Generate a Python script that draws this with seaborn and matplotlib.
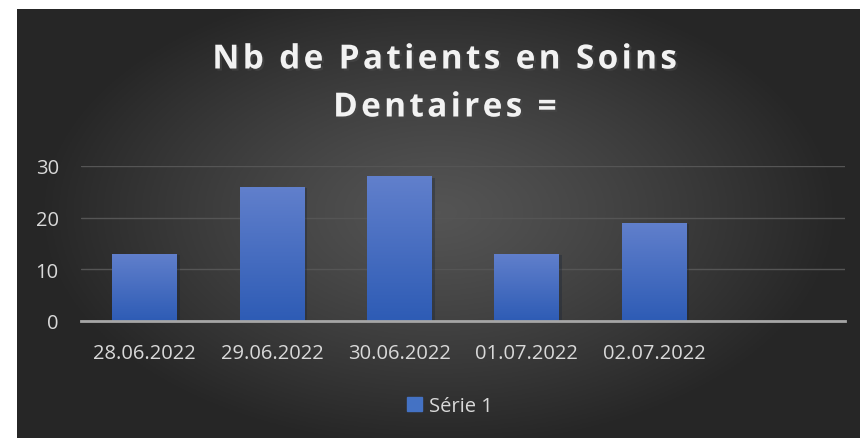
import matplotlib
matplotlib.use("Agg")
import matplotlib.pyplot as plt
import matplotlib.patheffects as pe
from matplotlib.patches import Rectangle
import numpy as np
import pandas as pd
import seaborn as sns

# data
dates = ["28.06.2022", "29.06.2022", "30.06.2022", "01.07.2022", "02.07.2022", ""]
patients = [13, 26, 28, 13, 19]
series_name = "Série 1"
title = "Nb de Patients en Soins\nDentaires ="
yticks = [0, 10, 20, 30]

df = pd.DataFrame({"date": dates[:len(patients)], "patients": patients})

sns.set_theme(style="dark")
plt.rcParams["font.family"] = ["Open Sans", "DejaVu Sans"]

W, H = 860, 439
fig = plt.figure(figsize=(W / 100, H / 100), dpi=100)
fig.patch.set_facecolor("white")

# dark radial background
bg = fig.add_axes([17 / W, 0, (W - 17) / W, (H - 10) / H])
bg.set_axis_off()
gx, gy = np.meshgrid(np.linspace(-1, 1, 400), np.linspace(-1, 1, 200))
r = np.clip(np.sqrt((gx / 0.95) ** 2 + ((gy + 0.05) / 1.1) ** 2), 0, 1)
lo, hi = np.array([0.15, 0.15, 0.15]), np.array([0.33, 0.33, 0.33])
img = hi + (lo - hi) * r[..., None] ** 1.2
bg.imshow(img, aspect="auto", extent=[0, 1, 0, 1])

ax = fig.add_axes([81 / W, (H - 322) / H, (845 - 81) / W, (322 - 167) / H])
ax.set_facecolor("none")
sns.barplot(data=df, x="date", y="patients", order=dates, width=0.51,
            color="#4472c4", edgecolor="none", linewidth=0, ax=ax, zorder=3)

# vertical gradient on each bar
grad = np.linspace(0, 1, 100)[:, None]
top_c, bot_c = np.array([0.38, 0.50, 0.80]), np.array([0.18, 0.36, 0.71])
bar_img = bot_c + (top_c - bot_c) * grad[..., None]
for p in ax.patches:
    p.set_path_effects([pe.SimplePatchShadow(offset=(2, -1), alpha=0.35), pe.Normal()])
    x0, y0 = p.get_x(), p.get_y()
    w, h = p.get_width(), p.get_height()
    if h <= 0:
        continue
    im = ax.imshow(bar_img, origin="lower", aspect="auto",
                   extent=[x0, x0 + w, y0, y0 + h], zorder=4)
    im.set_clip_path(p)

ax.set_xlim(-0.5, len(dates) - 0.5)
ax.set_ylim(0, 30)
ax.set_yticks(yticks)
ax.set_xlabel("")
ax.set_ylabel("")
ax.yaxis.grid(True, color="#555555", lw=1, zorder=0)
ax.xaxis.grid(False)
for s in ["top", "right", "left"]:
    ax.spines[s].set_visible(False)
ax.spines["bottom"].set_color("#a6a6a6")
ax.spines["bottom"].set_linewidth(2)
ax.spines["bottom"].set_zorder(5)
ax.tick_params(axis="both", length=0, colors="#d9d9d9", labelsize=14.5)
ax.tick_params(axis="x", pad=16)
ax.tick_params(axis="y", pad=16)

# letter-spaced title (hair spaces between letters)
spaced = "\n".join("\u200a".join(line) for line in title.split("\n"))
fig.text(445 / W, (H - 85) / H, spaced, ha="center", va="center",
         fontsize=24, fontweight="bold", color="#f2f2f2", linespacing=1.6,
         path_effects=[pe.withSimplePatchShadow(offset=(1.5, -1.5), alpha=0.6)])

handle = Rectangle((0, 0), 1, 1, color="#4472c4")
leg = fig.legend([handle], [series_name], loc="center", bbox_to_anchor=(450 / W, (H - 407) / H),
                 frameon=False, fontsize=14.5, handlelength=0.7, handleheight=0.7,
                 handletextpad=0.35, labelcolor="#d9d9d9")

fig.savefig("out.png", dpi=100, facecolor=fig.get_facecolor())
